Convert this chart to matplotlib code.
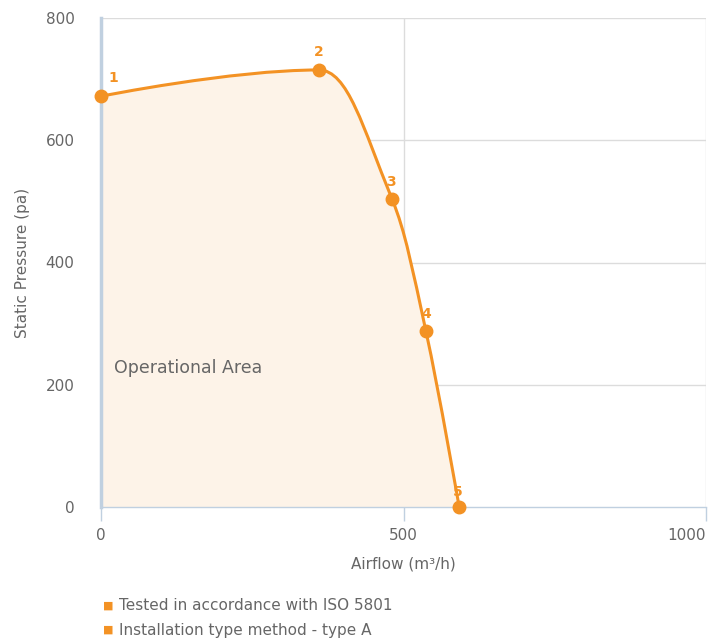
import numpy as np
import matplotlib.pyplot as plt
from matplotlib.path import Path
from matplotlib.patches import PathPatch

# fan curve points
airflow = [0, 360, 481, 537, 592]
pressure = [672, 715, 504, 288, 0]
point_labels = ['1', '2', '3', '4', '5']
x_ticks = [0, 500, 1000]
y_ticks = [0, 200, 400, 600, 800]
notes = ['Tested in accordance with ISO 5801', 'Installation type method - type A']

ORANGE = '#f39224'
FILL = '#fdf3e8'
GRID = '#dcdcdc'
AXIS = '#c0d0e0'
TEXT = '#666666'


def spline_controls(xs, ys, smoothing=1.5):
    """ Highcharts-like spline control points """
    n = len(xs)
    left = [None] * n
    right = [None] * n
    for i in range(n):
        x, y = xs[i], ys[i]
        if i == 0 or i == n - 1:
            left[i] = (x, y)
            right[i] = (x, y)
            continue
        lx = (smoothing * x + xs[i - 1]) / (smoothing + 1)
        ly = (smoothing * y + ys[i - 1]) / (smoothing + 1)
        rx = (smoothing * x + xs[i + 1]) / (smoothing + 1)
        ry = (smoothing * y + ys[i + 1]) / (smoothing + 1)
        if rx != lx:
            corr = ((ry - ly) * (rx - x)) / (rx - lx) + y - ry
            ly += corr
            ry += corr
        hi = max(ys[i - 1], y)
        lo = min(ys[i - 1], y)
        if ly > hi:
            ly = hi
            ry = 2 * y - ly
        elif ly < lo:
            ly = lo
            ry = 2 * y - ly
        hi = max(ys[i + 1], y)
        lo = min(ys[i + 1], y)
        if ry > hi:
            ry = hi
            ly = 2 * y - ry
        elif ry < lo:
            ry = lo
            ly = 2 * y - ry
        left[i] = (lx, ly)
        right[i] = (rx, ry)
    return left, right


def curve_vertices(xs, ys):
    left, right = spline_controls(xs, ys)
    verts = [(xs[0], ys[0])]
    codes = [Path.MOVETO]
    for i in range(1, len(xs)):
        verts += [right[i - 1], left[i], (xs[i], ys[i])]
        codes += [Path.CURVE4] * 3
    return verts, codes


fig = plt.figure(figsize=(7.19, 6.38), dpi=100)
ax = fig.add_axes([101 / 719, 1 - 507 / 638, 605 / 719, 489 / 638])
ax.set_xlim(0, 1000)
ax.set_ylim(0, 800)

verts, codes = curve_vertices(airflow, pressure)

# operational area fill
fill_verts = verts + [(airflow[-1], 0), (airflow[0], 0), (airflow[0], pressure[0])]
fill_codes = codes + [Path.LINETO, Path.LINETO, Path.CLOSEPOLY]
ax.add_patch(PathPatch(Path(fill_verts, fill_codes), facecolor=FILL, edgecolor='none', zorder=1))

# grid
for v in x_ticks[1:]:
    ax.axvline(v, color=GRID, lw=1, zorder=0.5)
for v in y_ticks[1:]:
    ax.axhline(v, color=GRID, lw=1, zorder=0.5)

ax.add_patch(PathPatch(Path(verts, codes), facecolor='none', edgecolor=ORANGE, lw=2.2, zorder=3))
ax.plot(airflow, pressure, 'o', color=ORANGE, ms=9, zorder=4, clip_on=False)

offsets = [(9, 8), (0, 8), (-1, 7), (0, 7), (-1, 6)]
for x, y, lab, off in zip(airflow, pressure, point_labels, offsets):
    ax.annotate(lab, (x, y), xytext=off, textcoords='offset points', ha='center', va='bottom',
                color=ORANGE, fontsize=10, fontweight='bold', zorder=5)

ax.text(21, 228, 'Operational Area', color=TEXT, fontsize=12.5, va='center', ha='left', zorder=5)

for s in ['top', 'right']:
    ax.spines[s].set_visible(False)
ax.spines['left'].set_color(AXIS)
ax.spines['left'].set_linewidth(2.5)
ax.spines['left'].set_zorder(2)
ax.spines['bottom'].set_color(AXIS)
ax.spines['bottom'].set_linewidth(1)

ax.set_xticks(x_ticks)
ax.set_yticks(y_ticks)
ax.tick_params(axis='x', colors=AXIS, length=10, width=1, direction='out', pad=5, labelcolor=TEXT, labelsize=11)
ax.tick_params(axis='y', length=0, pad=19, labelcolor=TEXT, labelsize=11)
ax.get_xticklabels()[-1].set_ha('right')

ax.set_xlabel('Airflow (m³/h)', color=TEXT, fontsize=11, labelpad=10)
ax.set_ylabel('Static Pressure (pa)', color=TEXT, fontsize=11, labelpad=11)

# notes below the chart
for i, note in enumerate(notes):
    yy = 1 - (606 + 24 * i) / 638
    fig.text(103 / 719, yy, '■', color=ORANGE, fontsize=8, va='center', ha='left')
    fig.text(119 / 719, yy, note, color=TEXT, fontsize=11, va='center', ha='left')

fig.savefig('out.png', dpi=100)
